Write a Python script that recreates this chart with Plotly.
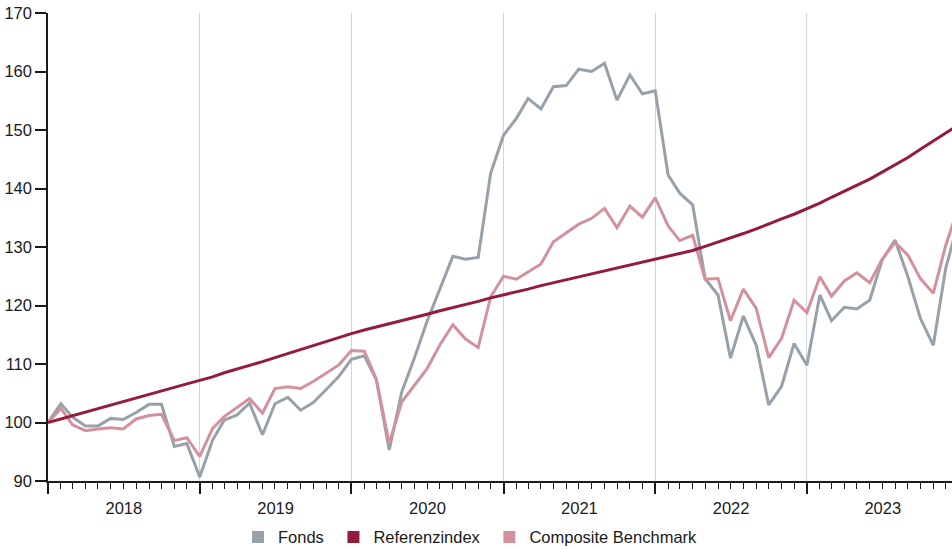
import pandas as pd
import plotly.graph_objects as go

# monthly values, Jan 2018 .. Jan 2024 (indexed, start = 100)
months = pd.date_range("2018-01-01", periods=73, freq="MS")

fonds = [
    100.0, 103.2, 100.9, 99.4, 99.4, 100.7, 100.5, 101.7, 103.1, 103.1, 95.9, 96.4,
    90.7, 97.0, 100.4, 101.3, 103.3, 97.9, 103.2, 104.3, 102.1, 103.4, 105.6, 107.8,
    110.8, 111.4, 107.3, 95.3, 105.2, 111.1, 117.3, 123.0, 128.4, 127.9, 128.2, 142.6,
    149.1, 152.0, 155.4, 153.6, 157.4, 157.6, 160.4, 160.0, 161.4, 155.1, 159.4, 156.2,
    156.7, 142.3, 139.2, 137.2, 124.6, 121.8, 111.0, 118.2, 113.2, 103.0, 106.2, 113.5,
    109.8, 121.8, 117.4, 119.7, 119.4, 120.9, 127.8, 131.2, 124.9, 117.8, 113.2, 126.4,
    134.5,
]

referenzindex = [
    100.0, 100.6, 101.2, 101.8, 102.4, 103.0, 103.6, 104.2, 104.8, 105.4, 106.0, 106.6,
    107.2, 107.8, 108.5, 109.1, 109.8, 110.4, 111.1, 111.8, 112.5, 113.2, 113.8, 114.5,
    115.2, 115.8, 116.3, 116.9, 117.4, 118.0, 118.5, 119.1, 119.6, 120.2, 120.7, 121.3,
    121.8, 122.3, 122.8, 123.4, 123.9, 124.4, 124.9, 125.4, 125.9, 126.4, 126.9, 127.4,
    127.9, 128.4, 128.9, 129.4, 130.1, 130.8, 131.5, 132.3, 133.1, 134.0, 134.8, 135.6,
    136.5, 137.5, 138.5, 139.5, 140.5, 141.6, 142.8, 144.0, 145.3, 146.7, 148.1, 149.5,
    150.9,
]

composite = [
    100.0, 102.4, 99.6, 98.6, 98.9, 99.1, 98.9, 100.6, 101.2, 101.4, 96.9, 97.4,
    94.2, 99.0, 101.0, 102.6, 104.1, 101.6, 105.8, 106.1, 105.8, 107.0, 108.5, 109.8,
    112.3, 112.2, 107.4, 96.4, 103.5, 106.5, 109.2, 113.3, 116.7, 114.3, 112.8, 121.5,
    125.0, 124.5, 125.8, 127.1, 130.9, 132.4, 133.9, 134.9, 136.6, 133.3, 137.0, 135.1,
    138.4, 133.6, 131.1, 132.0, 124.5, 124.6, 117.4, 122.8, 119.5, 111.1, 114.4, 120.9,
    118.8, 124.9, 121.6, 124.2, 125.6, 123.9, 127.9, 130.8, 128.6, 124.6, 122.1, 130.3,
    136.9,
]

names = ["Fonds", "Referenzindex", "Composite Benchmark"]
colors = ["#97a1aa", "#951b3a", "#d4909c"]
FONT = "Liberation Sans, Arial, sans-serif"
FS = 16.5

fig = go.Figure()

# lines (draw order: Fonds, Composite, Referenzindex on top)
for y, c, n in [(fonds, colors[0], names[0]), (composite, colors[2], names[2]), (referenzindex, colors[1], names[1])]:
    fig.add_trace(go.Scatter(x=months, y=y, mode="lines", name=n, showlegend=False,
                             line=dict(color=c, width=3), hoverinfo="skip"))

# square legend entries (trailing nbsp widens the gap between entries)
for c, n in zip(colors, names):
    fig.add_trace(go.Scatter(x=[None], y=[None], mode="markers", name=n + "\u00a0",
                             marker=dict(symbol="square", size=13, color=c)))

fig.update_layout(
    width=952, height=549,
    margin=dict(l=48, r=0, t=13, b=68, autoexpand=False),
    plot_bgcolor="white", paper_bgcolor="white",
    font=dict(family=FONT, size=FS, color="#1a1a1a"),
    legend=dict(orientation="h", x=0.469, xanchor="center", y=-0.12, yanchor="middle",
                font=dict(size=FS), itemsizing="constant", traceorder="normal"),
)

fig.update_xaxes(
    range=["2018-01-01", "2023-12-16"], automargin=False,
    tickformat="%Y", dtick="M12", tick0="2018-01-01", ticklabelmode="period",
    ticks="outside", ticklen=11, tickwidth=1.5, tickcolor="#1a1a1a",
    showline=True, linecolor="#1a1a1a", linewidth=1.5,
    showgrid=True, gridcolor="#cfd5da", gridwidth=1.2,
    minor=dict(dtick="M1", tick0="2018-01-01", ticks="outside", ticklen=6,
               tickwidth=1.3, tickcolor="#1a1a1a", showgrid=False),
    tickfont=dict(size=FS),
    zeroline=False,
)

fig.update_yaxes(
    range=[90, 170], dtick=10, automargin=False,
    ticks="outside", ticklen=11, tickwidth=1.5, tickcolor="#1a1a1a",
    showline=True, linecolor="#1a1a1a", linewidth=1.5,
    showgrid=False, zeroline=False,
    tickfont=dict(size=FS),
)

# drop the default page margin so the figure fills the window exactly
fig.write_html("out.html", config={"displayModeBar": False},
               post_script="document.body.style.margin='0';"
                           "document.documentElement.style.overflow='hidden';")
